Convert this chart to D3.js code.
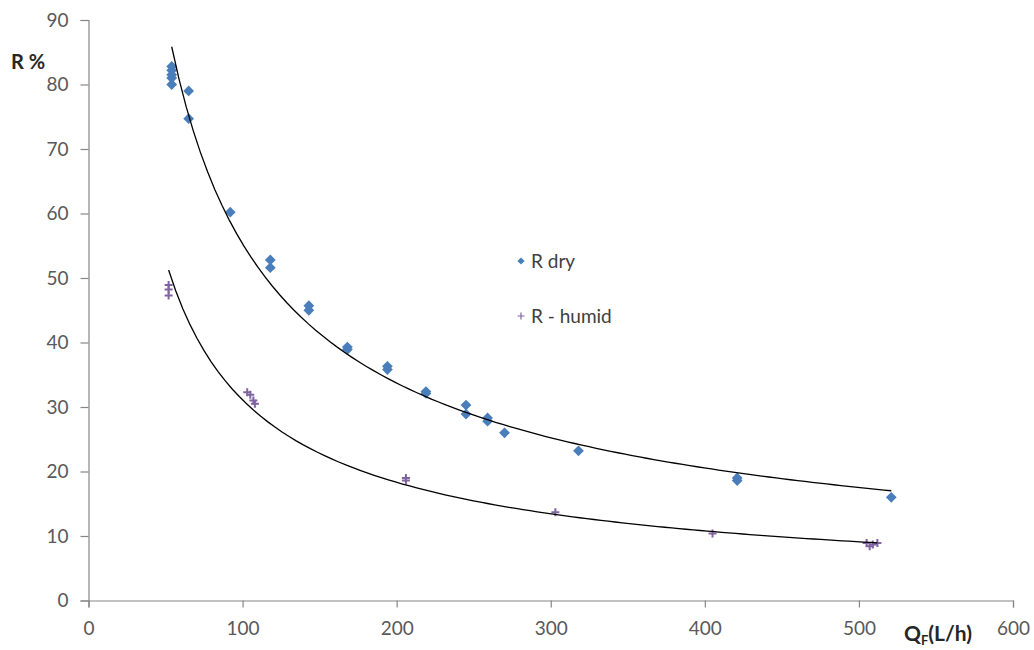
<!DOCTYPE html>
<html>
<head>
<meta charset="utf-8">
<script src="https://cdn.jsdelivr.net/npm/d3@7"></script>
<style>
  body { margin: 0; background: #fff; }
  svg { font-family: "Lato", "Liberation Sans", sans-serif; }
</style>
</head>
<body>
<svg id="chart" width="1034" height="650"></svg>
<script>
// R dry : [Q_F (L/h), R %]
const dryData = [
  [54, 82.8], [54, 82.2], [54, 81.5], [54, 81.0], [54, 80.0],
  [65, 79.0], [65, 74.7], [92, 60.2], [118, 52.8], [118, 51.6],
  [143, 45.7], [143, 45.0], [168, 39.3], [168, 38.9], [194, 36.3],
  [194, 35.8], [219, 32.4], [219, 32.1], [245, 30.3], [245, 28.9],
  [259, 28.3], [259, 27.8], [270, 26.0], [318, 23.2], [421, 19.0],
  [421, 18.6], [521, 16.0]
];
// R - humid
const humidData = [
  [52, 48.9], [52, 48.2], [52, 47.3], [103, 32.3], [105, 31.9],
  [107, 31.0], [108, 30.5], [206, 19.0], [206, 18.6], [303, 13.7],
  [405, 10.4], [505, 8.9], [507, 8.4], [509, 8.7], [512, 8.9]
];
const xTicks = [0, 100, 200, 300, 400, 500, 600];
const yTicks = [0, 10, 20, 30, 40, 50, 60, 70, 80, 90];
const seriesNames = ["R dry", "R - humid"];

const svg = d3.select("#chart");
const x = d3.scaleLinear().domain([0, 600]).range([88.5, 1013]);
const y = d3.scaleLinear().domain([0, 90]).range([600.5, 20]);

const axisColor = "#868686";
const labelColor = "#595959";

// y axis
const gy = svg.append("g")
  .attr("transform", `translate(${x(0)},0)`)
  .call(d3.axisLeft(y).tickValues(yTicks).tickSize(8).tickPadding(12));
// x axis
const gx = svg.append("g")
  .attr("transform", `translate(0,${y(0)})`)
  .call(d3.axisBottom(x).tickValues(xTicks).tickSize(7).tickPadding(14));

[gx, gy].forEach(g => {
  g.select(".domain").attr("stroke", axisColor).attr("stroke-width", 1.2);
  g.selectAll(".tick line").attr("stroke", axisColor).attr("stroke-width", 1.2);
  g.selectAll(".tick text")
    .attr("fill", labelColor)
    .style("font-size", "19px")
    .style("font-family", "Lato, 'Liberation Sans', sans-serif");
});

// power trendline, least squares in log-log like Excel
function powerFit(data) {
  const n = data.length;
  let sx = 0, sy = 0, sxx = 0, sxy = 0;
  data.forEach(([a, b]) => {
    const lx = Math.log(a), ly = Math.log(b);
    sx += lx; sy += ly; sxx += lx * lx; sxy += lx * ly;
  });
  const b = (n * sxy - sx * sy) / (n * sxx - sx * sx);
  const a = Math.exp((sy - b * sx) / n);
  return q => a * Math.pow(q, b);
}

function drawTrend(data) {
  const f = powerFit(data);
  const ext = d3.extent(data, d => d[0]);
  const pts = d3.range(0, 101).map(i => {
    const q = ext[0] + (ext[1] - ext[0]) * i / 100;
    return [q, f(q)];
  });
  svg.append("path")
    .datum(pts)
    .attr("fill", "none")
    .attr("stroke", "#000")
    .attr("stroke-width", 1.3)
    .attr("d", d3.line().x(d => x(d[0])).y(d => y(d[1])));
}

const diamond = d3.symbol().type(d3.symbolSquare).size(58)();
const plus = "M-4,0H4M0,-4V4";

// points
svg.append("g").selectAll("path")
  .data(humidData)
  .enter().append("path")
  .attr("d", plus)
  .attr("transform", d => `translate(${x(d[0])},${y(d[1])})`)
  .attr("stroke", "#8064a2")
  .attr("stroke-width", 2)
  .attr("fill", "none");

svg.append("g").selectAll("path")
  .data(dryData)
  .enter().append("path")
  .attr("d", diamond)
  .attr("transform", d => `translate(${x(d[0])},${y(d[1])}) rotate(45)`)
  .attr("fill", "#4a7ebb");

drawTrend(dryData);
drawTrend(humidData);

// legend
const legend = svg.append("g").attr("transform", "translate(521,261)");
legend.append("path")
  .attr("d", d3.symbol().type(d3.symbolSquare).size(26)())
  .attr("transform", "rotate(45)")
  .attr("fill", "#4a7ebb");
legend.append("text")
  .attr("x", 10).attr("y", 6.5)
  .attr("fill", "#404040")
  .style("font-size", "19px")
  .text(seriesNames[0]);
legend.append("path")
  .attr("d", "M-3.5,0H3.5M0,-3.5V3.5")
  .attr("transform", "translate(0,55)")
  .attr("stroke", "#8064a2")
  .attr("stroke-width", 1.2);
legend.append("text")
  .attr("x", 10).attr("y", 61.5)
  .attr("fill", "#404040")
  .style("font-size", "19px")
  .text(seriesNames[1]);

// axis titles
svg.append("text")
  .attr("x", 11).attr("y", 69)
  .attr("fill", "#262626")
  .attr("font-weight", "bold")
  .style("font-size", "20px")
  .text("R %");

const qt = svg.append("text")
  .attr("x", 904).attr("y", 641)
  .attr("fill", "#262626")
  .attr("font-weight", "bold")
  .style("font-size", "21px");
qt.append("tspan").text("Q");
qt.append("tspan").attr("dy", 4).style("font-size", "13px").text("F");
qt.append("tspan").attr("dy", -4).text("(L/h)");
</script>
</body>
</html>
